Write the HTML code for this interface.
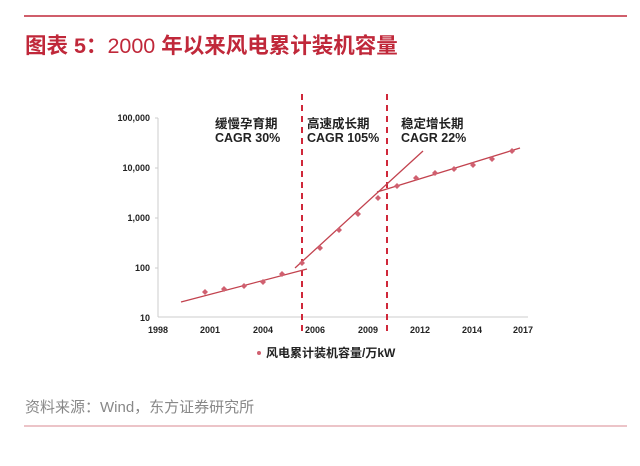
<!DOCTYPE html>
<html><head><meta charset="utf-8"><style>
body{margin:0;background:#fff;width:640px;height:461px;overflow:hidden;font-family:"Liberation Sans","Noto Sans CJK SC",sans-serif}
</style></head><body>
<svg width="640" height="461" viewBox="0 0 640 461" xmlns="http://www.w3.org/2000/svg" font-family="Liberation Sans, Noto Sans CJK SC, sans-serif">
<line x1="24" y1="16" x2="627" y2="16" stroke="#c0283a" stroke-width="1.5"/>
<text x="25" y="53" font-size="21.5" font-weight="bold" fill="#c0283a">图表 5：<tspan font-weight="normal">2000</tspan> 年以来风电累计装机容量</text>
<g font-size="9" font-weight="bold" fill="#222" text-anchor="end">
<text x="150" y="121">100,000</text><text x="150" y="171">10,000</text><text x="150" y="221">1,000</text><text x="150" y="271">100</text><text x="150" y="321">10</text>
</g>
<g stroke="#ccc" stroke-width="1"><line x1="158" y1="118" x2="158" y2="317"/><line x1="158" y1="317" x2="528" y2="317"/>
<line x1="155" y1="118" x2="158" y2="118"/><line x1="155" y1="168" x2="158" y2="168"/><line x1="155" y1="218" x2="158" y2="218"/><line x1="155" y1="268" x2="158" y2="268"/></g>
<g font-size="9" font-weight="bold" fill="#222" text-anchor="middle">
<text x="158" y="333">1998</text><text x="210" y="333">2001</text><text x="263" y="333">2004</text><text x="315" y="333">2006</text><text x="368" y="333">2009</text><text x="420" y="333">2012</text><text x="472" y="333">2014</text><text x="523" y="333">2017</text>
</g>
<g stroke="#d0283a" stroke-width="2" stroke-dasharray="6,5"><line x1="302" y1="94" x2="302" y2="335"/><line x1="387" y1="94" x2="387" y2="335"/></g>
<g stroke="#c2424e" stroke-width="1.3"><line x1="181" y1="302" x2="307" y2="269"/><line x1="295" y1="268" x2="423" y2="151"/><line x1="377" y1="192" x2="520" y2="148"/></g>
<g fill="#d06070">
<path d="M205 289l3 3-3 3-3-3z"/><path d="M224 286l3 3-3 3-3-3z"/><path d="M244 283l3 3-3 3-3-3z"/><path d="M263 279l3 3-3 3-3-3z"/><path d="M282 271l3 3-3 3-3-3z"/><path d="M302 260l3 3-3 3-3-3z"/><path d="M320 245l3 3-3 3-3-3z"/><path d="M339 227l3 3-3 3-3-3z"/><path d="M358 211l3 3-3 3-3-3z"/><path d="M378 195l3 3-3 3-3-3z"/><path d="M397 183l3 3-3 3-3-3z"/><path d="M416 175l3 3-3 3-3-3z"/><path d="M435 170l3 3-3 3-3-3z"/><path d="M454 166l3 3-3 3-3-3z"/><path d="M473 162l3 3-3 3-3-3z"/><path d="M492 156l3 3-3 3-3-3z"/><path d="M512 148l3 3-3 3-3-3z"/>
</g>
<g font-size="12.5" font-weight="bold" fill="#222">
<text x="215" y="128">缓慢孕育期</text><text x="215" y="142">CAGR 30%</text>
<text x="307" y="128">高速成长期</text><text x="307" y="142">CAGR 105%</text>
<text x="401" y="128">稳定增长期</text><text x="401" y="142">CAGR 22%</text>
</g>
<circle cx="259" cy="353" r="2" fill="#d06070"/>
<text x="266" y="357" font-size="12" font-weight="bold" fill="#222">风电累计装机容量/万kW</text>
<text x="25" y="412" font-size="15" fill="#888">资料来源：Wind，东方证券研究所</text>
<line x1="24" y1="426" x2="627" y2="426" stroke="#e0a0a8" stroke-width="1.2"/>
</svg>
</body></html>
